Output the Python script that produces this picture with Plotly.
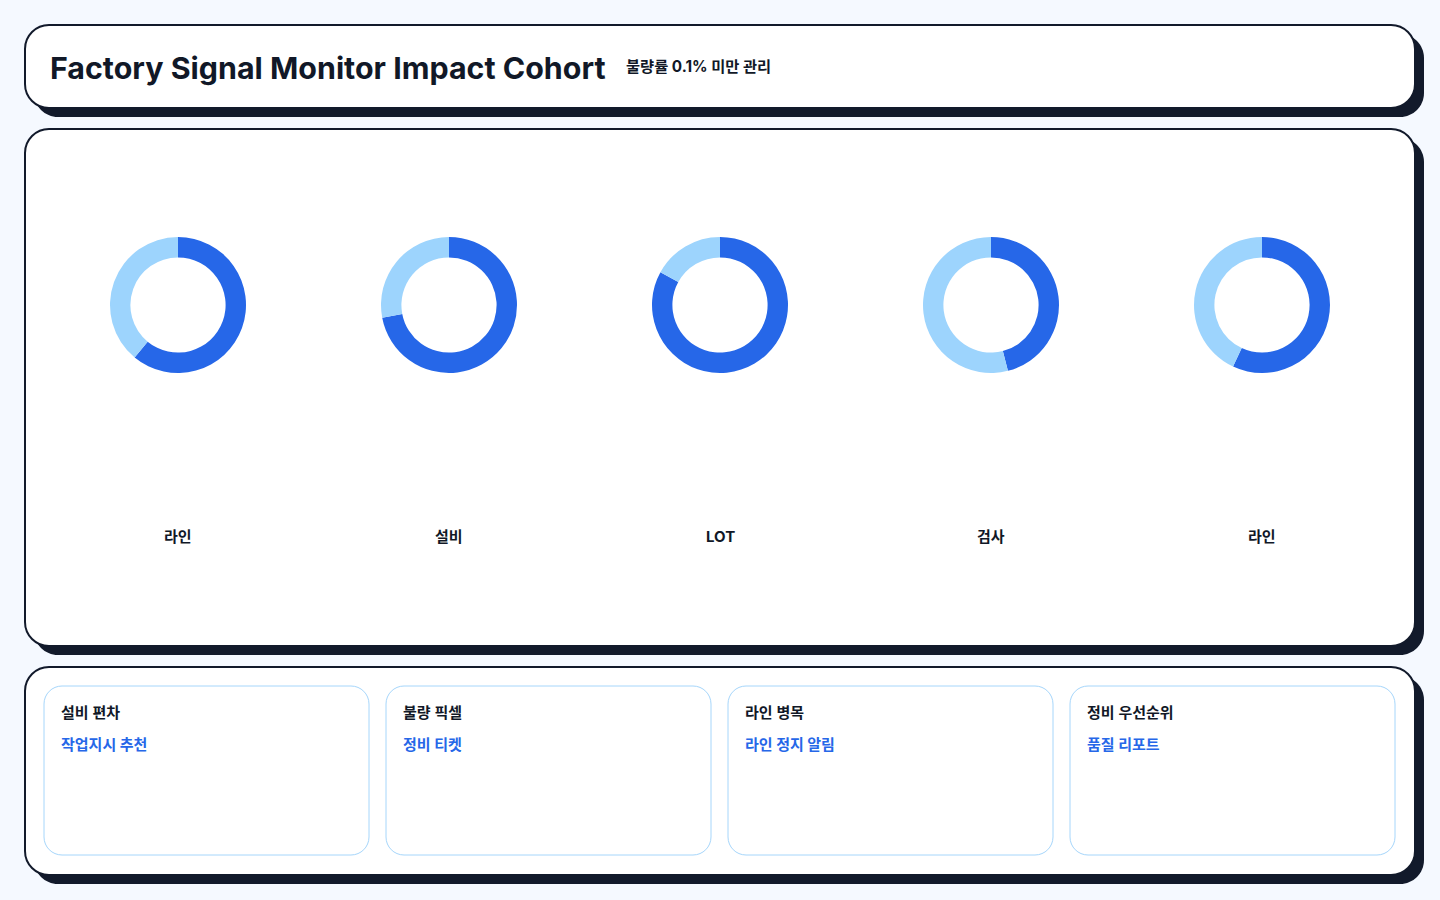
import plotly.graph_objects as go

# ---- data ----
categories = ["라인", "설비", "LOT", "검사", "라인"]
primary_share = [61, 72, 83, 46, 57]
secondary_share = [39, 28, 17, 54, 43]
slice_names = ["주요", "기타"]

title_text = "Factory Signal Monitor Impact Cohort"
subtitle_text = "불량률 0.1% 미만 관리"
card_titles = ["설비 편차", "불량 픽셀", "라인 병목", "정비 우선순위"]
card_actions = ["작업지시 추천", "정비 티켓", "라인 정지 알림", "품질 리포트"]

# ---- style ----
W, H = 1440, 900
BG = "#f5f9ff"
DARK = "#121a2b"
TEXT = "#111827"
BLUE = "#2667e8"
LIGHT = "#9dd4fd"
CARD_BORDER = "#a6d6fb"
FONT = "Inter, 'Noto Sans CJK KR', sans-serif"


def rrect(x0, y0, x1, y1, r):
    k = 0.5523 * r
    return (
        f"M {x0+r},{y0} L {x1-r},{y0} "
        f"C {x1-r+k},{y0} {x1},{y0+r-k} {x1},{y0+r} "
        f"L {x1},{y1-r} "
        f"C {x1},{y1-r+k} {x1-r+k},{y1} {x1-r},{y1} "
        f"L {x0+r},{y1} "
        f"C {x0+r-k},{y1} {x0},{y1-r+k} {x0},{y1-r} "
        f"L {x0},{y0+r} "
        f"C {x0},{y0+r-k} {x0+r-k},{y0} {x0+r},{y0} Z"
    )


shapes = []


def card(x0, y0, x1, y1, r=24, off=9):
    shapes.append(dict(type="path", xref="x", yref="y", layer="below",
                       path=rrect(x0 + off, y0 + off, x1 + off, y1 + off, r),
                       fillcolor=DARK, line=dict(width=0)))
    shapes.append(dict(type="path", xref="x", yref="y", layer="below",
                       path=rrect(x0, y0, x1, y1, r),
                       fillcolor="white", line=dict(color=DARK, width=2)))


card(25, 25, 1415, 108)
card(25, 129, 1415, 646)
card(25, 667, 1415, 875)

sub_x = [44, 386, 728, 1070]
sub_w = 325
for sx in sub_x:
    shapes.append(dict(type="path", xref="x", yref="y", layer="below",
                       path=rrect(sx, 686, sx + sub_w, 855, 18),
                       fillcolor="white", line=dict(color=CARD_BORDER, width=1)))

fig = go.Figure()

# invisible axes in pixel units
fig.add_trace(go.Scatter(x=[0, W], y=[0, H], mode="markers",
                         marker=dict(opacity=0), hoverinfo="skip", showlegend=False))

centers = [178, 449, 720, 991, 1262]
cy = 305
rad = 68
for i, c in enumerate(categories):
    cx = centers[i]
    fig.add_trace(go.Pie(
        values=[primary_share[i], secondary_share[i]],
        labels=slice_names,
        hole=0.70,
        sort=False,
        direction="clockwise",
        rotation=0,
        textinfo="none",
        marker=dict(colors=[BLUE, LIGHT], line=dict(width=0)),
        domain=dict(x=[(cx - 120) / W, (cx + 120) / W],
                    y=[(H - cy - rad) / H, (H - cy + rad) / H]),
        showlegend=False,
        hoverinfo="label+percent",
    ))

annotations = []
annotations.append(dict(x=48, y=68, xref="x", yref="y", text=f"<b>{title_text}</b>",
                        showarrow=False, xanchor="left", yanchor="middle",
                        font=dict(family=FONT, size=30.4, color=TEXT)))
annotations.append(dict(x=624, y=66, xref="x", yref="y", text=f"<b>{subtitle_text}</b>",
                        showarrow=False, xanchor="left", yanchor="middle",
                        font=dict(family=FONT, size=15.3, color=TEXT)))
for i, c in enumerate(categories):
    annotations.append(dict(x=centers[i], y=536, xref="x", yref="y", text=f"<b>{c}</b>",
                            showarrow=False, xanchor="center", yanchor="middle",
                            font=dict(family=FONT, size=15, color=TEXT)))
for i, sx in enumerate(sub_x):
    annotations.append(dict(x=sx + 15, y=712, xref="x", yref="y", text=card_titles[i],
                            showarrow=False, xanchor="left", yanchor="middle",
                            font=dict(family=FONT, size=15, color=TEXT, weight=600)))
    annotations.append(dict(x=sx + 15, y=744, xref="x", yref="y", text=f"<b>{card_actions[i]}</b>",
                            showarrow=False, xanchor="left", yanchor="middle",
                            font=dict(family=FONT, size=15, color=BLUE)))

fig.update_layout(
    width=W, height=H,
    margin=dict(l=0, r=0, t=0, b=0),
    paper_bgcolor=BG, plot_bgcolor=BG,
    xaxis=dict(range=[0, W], visible=False, fixedrange=True),
    yaxis=dict(range=[H, 0], visible=False, fixedrange=True),
    shapes=shapes,
    annotations=annotations,
    showlegend=False,
)

fig.write_html("out.html", config=dict(displayModeBar=False),
               post_script="document.body.style.margin='0';document.body.style.overflow='hidden';")
